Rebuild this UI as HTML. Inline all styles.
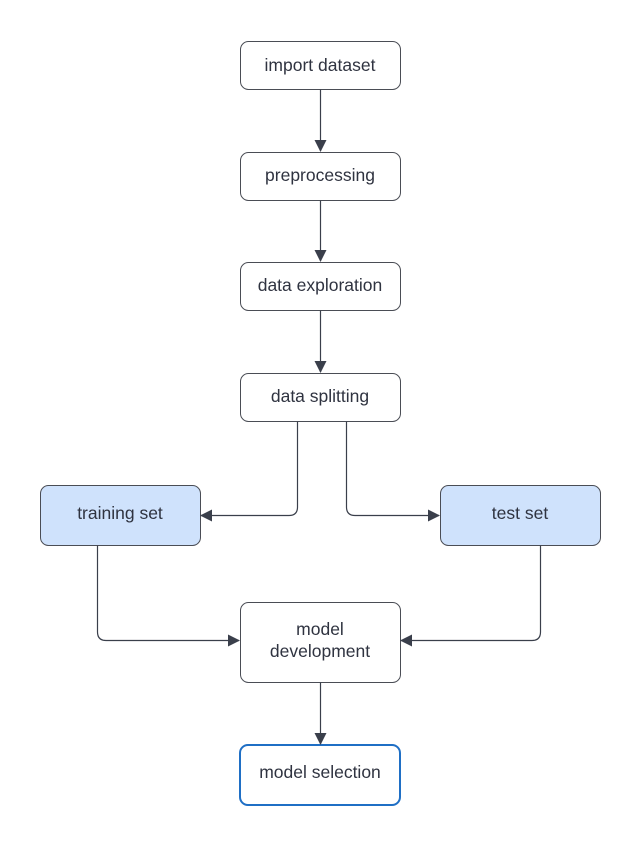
<!DOCTYPE html>
<html><head><style>body{margin:0;background:#fff}</style></head><body>
<svg width="640" height="845" xmlns="http://www.w3.org/2000/svg" font-family="Liberation Sans, sans-serif" font-size="17.5" fill="#2f3340">
<defs><marker id="a" markerWidth="12" markerHeight="12" refX="11" refY="6" orient="auto" markerUnits="userSpaceOnUse"><path d="M0,0 L12,6 L0,12 z" fill="#3a3f4b"/></marker></defs>
<g fill="#fff" stroke="#4a4d55" stroke-width="1">
<rect x="240.5" y="41.5" width="160" height="48" rx="8"/>
<rect x="240.5" y="152.5" width="160" height="48" rx="8"/>
<rect x="240.5" y="262.5" width="160" height="48" rx="8"/>
<rect x="240.5" y="373.5" width="160" height="48" rx="8"/>
<rect x="40.5" y="485.5" width="160" height="60" rx="8" fill="#cfe2fc"/>
<rect x="440.5" y="485.5" width="160" height="60" rx="8" fill="#cfe2fc"/>
<rect x="240.5" y="602.5" width="160" height="80" rx="8"/>
<rect x="240" y="745" width="160" height="60" rx="8" stroke="#1f6fc5" stroke-width="2"/>
</g>
<g fill="none" stroke="#3a3f4b" stroke-width="1.2" marker-end="url(#a)">
<path d="M320.5 89.5V151"/><path d="M320.5 200.5V261"/><path d="M320.5 310.5V372"/>
<path d="M297.5 421.5V507Q297.5 515.5 289 515.5H201"/>
<path d="M346.5 421.5V507Q346.5 515.5 355 515.5H439"/>
<path d="M97.5 545.5V632Q97.5 640.5 106 640.5H239"/>
<path d="M540.5 545.5V632Q540.5 640.5 532 640.5H401"/>
<path d="M320.5 682.5V744"/>
</g>
<g text-anchor="middle">
<text x="320" y="71">import dataset</text>
<text x="320" y="181">preprocessing</text>
<text x="320" y="291">data exploration</text>
<text x="320" y="402">data splitting</text>
<text x="120" y="519">training set</text>
<text x="520" y="519">test set</text>
<text x="320" y="635">model</text>
<text x="320" y="657">development</text>
<text x="320" y="778">model selection</text>
</g>
</svg>
</body></html>
